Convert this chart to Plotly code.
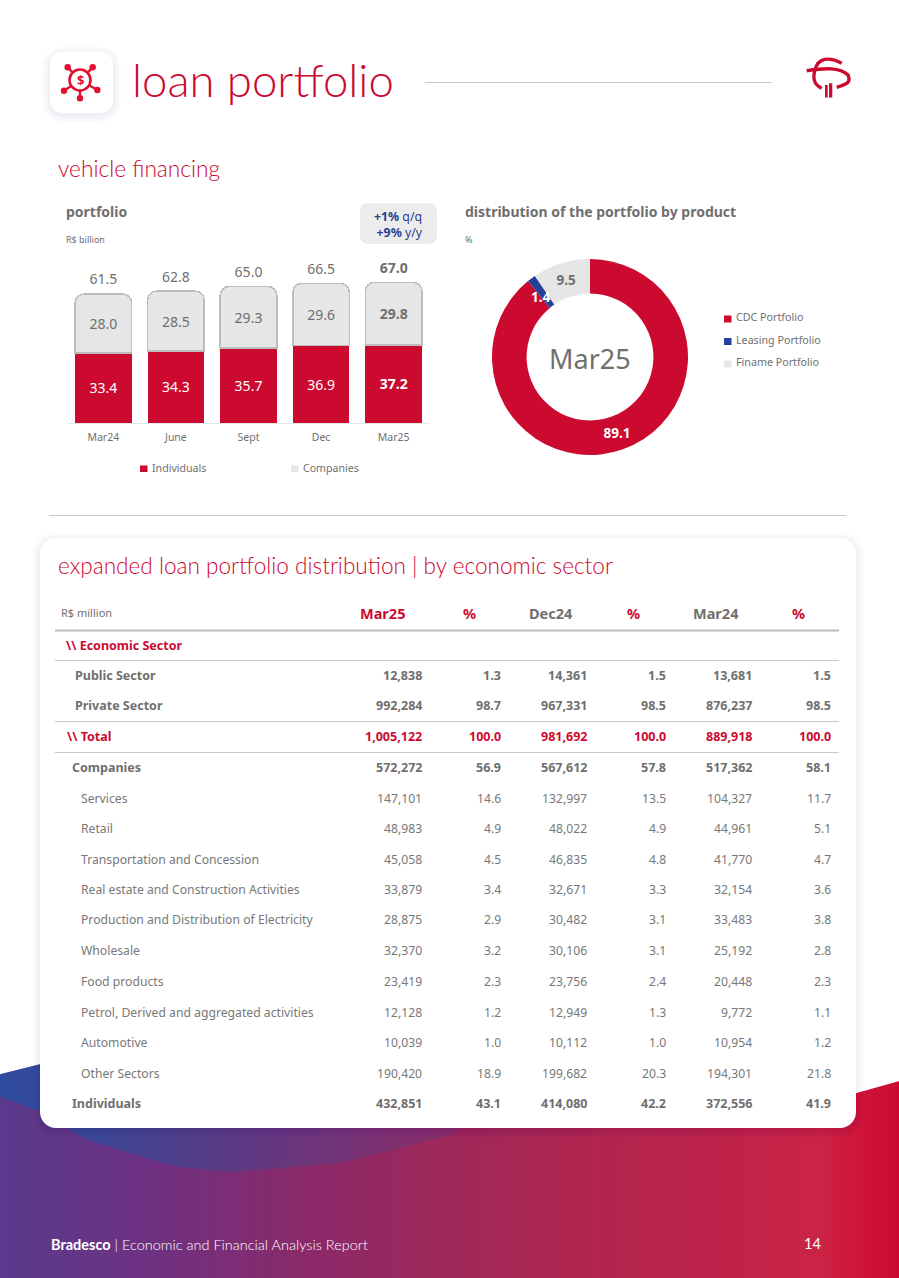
import base64, struct, zlib
import numpy as np
import plotly.graph_objects as go

W, H = 899, 1278
RED = "#cc092f"
GRAY = "#6f6f6f"
LGRAY = "#e6e6e6"
BLUE = "#23439b"

# ---- data ----
periods = ["Mar24", "June", "Sept", "Dec", "Mar25"]
individuals = [33.4, 34.3, 35.7, 36.9, 37.2]
companies = [28.0, 28.5, 29.3, 29.6, 29.8]
totals = [61.5, 62.8, 65.0, 66.5, 67.0]

products = ["CDC Portfolio", "Leasing Portfolio", "Finame Portfolio"]
product_share = [89.1, 1.4, 9.5]

table_columns = ["Mar25", "%", "Dec24", "%", "Mar24", "%"]
row_labels = ["Public Sector", "Private Sector", "\\\\ Total", "Companies", "Services", "Retail",
              "Transportation and Concession", "Real estate and Construction Activities",
              "Production and Distribution of Electricity", "Wholesale", "Food products",
              "Petrol, Derived and aggregated activities", "Automotive", "Other Sectors", "Individuals"]
col_mar25 = ["12,838", "992,284", "1,005,122", "572,272", "147,101", "48,983", "45,058", "33,879",
             "28,875", "32,370", "23,419", "12,128", "10,039", "190,420", "432,851"]
pct_mar25 = ["1.3", "98.7", "100.0", "56.9", "14.6", "4.9", "4.5", "3.4", "2.9", "3.2", "2.3", "1.2", "1.0", "18.9", "43.1"]
col_dec24 = ["14,361", "967,331", "981,692", "567,612", "132,997", "48,022", "46,835", "32,671",
             "30,482", "30,106", "23,756", "12,949", "10,112", "199,682", "414,080"]
pct_dec24 = ["1.5", "98.5", "100.0", "57.8", "13.5", "4.9", "4.8", "3.3", "3.1", "3.1", "2.4", "1.3", "1.0", "20.3", "42.2"]
col_mar24 = ["13,681", "876,237", "889,918", "517,362", "104,327", "44,961", "41,770", "32,154",
             "33,483", "25,192", "20,448", "9,772", "10,954", "194,301", "372,556"]
pct_mar24 = ["1.5", "98.5", "100.0", "58.1", "11.7", "5.1", "4.7", "3.6", "3.8", "2.8", "2.3", "1.1", "1.2", "21.8", "41.9"]

# ---- page helpers (pixel -> paper) ----
def px(x): return x / W
def py(y): return 1 - y / H

annotations, shapes = [], []
SANS = "Noto Sans"
THIN = "Lato"

def text(x, y, s, size=12.5, color=GRAY, anchor="left", weight=400, family=SANS):
    annotations.append(dict(x=px(x - 1), y=py(y - 1), xref="paper", yref="paper", text=s, showarrow=False,
                            xanchor=anchor, yanchor="middle", align=anchor, borderpad=0,
                            font=dict(size=size, color=color, family=family, weight=weight)))

def pth(d, **kw):
    shapes.append(dict(type="path", path=d, xref="paper", yref="paper", layer="below", **kw))

def P(x, y): return f"{px(x):.6f},{py(y):.6f}"

def rrect_path(x0, y0, x1, y1, r):
    k = r * 0.45
    return (f"M {P(x0+r,y0)} L {P(x1-r,y0)} C {P(x1-k,y0)} {P(x1,y0+k)} {P(x1,y0+r)} "
            f"L {P(x1,y1-r)} C {P(x1,y1-k)} {P(x1-k,y1)} {P(x1-r,y1)} "
            f"L {P(x0+r,y1)} C {P(x0+k,y1)} {P(x0,y1-k)} {P(x0,y1-r)} "
            f"L {P(x0,y0+r)} C {P(x0,y0+k)} {P(x0+k,y0)} {P(x0+r,y0)} Z")

def rrect(x0, y0, x1, y1, r, fill, shadow=0):
    for i in range(shadow, 0, -1):
        pth(rrect_path(x0 - i, y0 - i + 2, x1 + i, y1 + i + 2, r + i),
            fillcolor="rgba(60,60,70,0.008)", line=dict(width=0))
    pth(rrect_path(x0, y0, x1, y1, r), fillcolor=fill, line=dict(width=0))

def hline(x0, x1, y, color="#c8c8c8", width=1):
    shapes.append(dict(type="line", xref="paper", yref="paper", x0=px(x0), x1=px(x1), y0=py(y + 0.5), y1=py(y + 0.5),
                       line=dict(color=color, width=width), layer="below"))

def square(x0, x1, y0, y1, color):
    shapes.append(dict(type="rect", xref="paper", yref="paper", x0=px(x0), x1=px(x1), y0=py(y0), y1=py(y1),
                       fillcolor=color, line=dict(width=0), layer="below"))

# ---- bottom wave background, painted as a small RGBA image ----
def background_png():
    top, h = 1040, 238
    xs = np.arange(W)
    ys = np.arange(top, top + h)
    sx = [0, 150, 300, 450, 600, 750, 820, 860, 899]
    base = np.array([[90, 59, 141], [111, 50, 130], [138, 42, 107], [160, 40, 90], [179, 38, 79],
                     [194, 35, 74], [204, 36, 69], [208, 20, 58], [204, 10, 48]], float)
    col = np.stack([np.interp(xs, sx, base[:, i]) for i in range(3)], 1)
    bx = [0, 100, 230, 453, 899]
    blue = np.array([[47, 76, 160], [62, 71, 152], [93, 58, 133], [140, 45, 105], [140, 45, 105]], float)
    bcol = np.stack([np.interp(xs, bx, blue[:, i]) for i in range(3)], 1)
    edge = np.interp(xs, [0, 40, 86, 170, 229, 344, 453, 500], [1097, 1112, 1140, 1166, 1173, 1163, 1135, 1000])
    top_edge = np.interp(xs, [0, 40, 856, 899], [1073, 1063, 1092, 1080])
    Y, _ = np.meshgrid(ys, xs, indexing="ij")
    mask = np.clip((edge[None, :] - Y) / 2, 0, 1)[..., None]
    rgb = col[None, :, :] * (1 - mask) + bcol[None, :, :] * mask
    alpha = np.clip(Y - top_edge[None, :], 0, 1)[..., None] * 255
    arr = np.concatenate([rgb, alpha], 2).astype(np.uint8)
    raw = b"".join(b"\x00" + arr[i].tobytes() for i in range(h))
    def chunk(t, d):
        return struct.pack(">I", len(d)) + t + d + struct.pack(">I", zlib.crc32(t + d))
    png = b"\x89PNG\r\n\x1a\n" + chunk(b"IHDR", struct.pack(">IIBBBBB", W, h, 8, 6, 0, 0, 0)) + \
        chunk(b"IDAT", zlib.compress(raw, 9)) + chunk(b"IEND", b"")
    return "data:image/png;base64," + base64.b64encode(png).decode()

# ---- page furniture ----
rrect(40, 538, 856, 1128, 16, "#ffffff", shadow=8)
rrect(50, 52, 113, 113, 12, "#ffffff", shadow=8)
rrect(360, 203, 437, 244, 8, "#ececec")
hline(425, 772, 82)
hline(49, 846, 515)

# header icon
cx, cy = 80, 80
for dx, dy in [(67.7, 67.3), (92.7, 67.3), (64, 90.7), (97.3, 90), (80, 98.3)]:
    shapes.append(dict(type="line", xref="paper", yref="paper", x0=px(cx), y0=py(cy), x1=px(dx), y1=py(dy),
                       line=dict(color="#e0102f", width=2.4), layer="below"))
    shapes.append(dict(type="circle", xref="paper", yref="paper", x0=px(dx-3.2), x1=px(dx+3.2), y0=py(dy-3.2), y1=py(dy+3.2),
                       fillcolor="#e0102f", line=dict(width=0), layer="below"))
shapes.append(dict(type="circle", xref="paper", yref="paper", x0=px(cx-10.5), x1=px(cx+10.5), y0=py(cy-10.5), y1=py(cy+10.5),
                   fillcolor="#ffffff", line=dict(color="#e0102f", width=2.6), layer="below"))
text(cx + 1, cy + 1, "$", 13, "#e0102f", "center", 700)

# Bradesco logo
pth(f"M {P(841.7,63.3)} C {P(830,57)} {P(818,57)} {P(815,70)} C {P(812,80)} {P(815,85)} {P(821.7,88.3)}",
    line=dict(color=RED, width=3.4))
pth(f"M {P(806.7,70.7)} C {P(825,68)} {P(840,67)} {P(848,75)} C {P(851,82)} {P(848,84)} {P(836.7,87.3)}",
    line=dict(color=RED, width=3.4))
for x0, x1, y0 in [(825, 827.7, 85), (829, 832.3, 83.3)]:
    square(x0, x1, y0, 97.5, RED)

# titles
text(131.5, 80, "loan portfolio", 45.5, RED, weight=300, family=THIN)
text(58, 169.5, "vehicle financing", 22.7, RED, weight=300, family=THIN)
text(58, 566, "expanded loan portfolio distribution | by economic sector", 22.6, RED, weight=300, family=THIN)
text(66, 212, "portfolio", 14, GRAY, weight=700)
text(66, 240, "R$ billion", 9, GRAY)
text(465, 212, "distribution of the portfolio by product", 14, GRAY, weight=700)
text(465, 240, "%", 9, GRAY)
text(424.5, 226, "<b>+1%</b> q/q<br><b>+9%</b> y/y", 12.3, "#2b3f8f", "right")
text(591, 360, "Mar25", 27, GRAY, "center")

# chart legends
for x, name, color in [(140, "Individuals", RED), (291, "Companies", LGRAY)]:
    square(x, x + 7.5, 465.5, 472, color)
    text(x + 12, 468.5, name, 10.6, GRAY)
for i, (name, color) in enumerate(zip(products, [RED, BLUE, LGRAY])):
    y = 318 + i * 22.5
    square(724, 731.5, y - 2.5, y + 4.5, color)
    text(735.5, y, name, 10.7, GRAY)

# table
hline(55, 839, 630, "#bdbdbd", 2)
for y in (660, 721, 752):
    hline(55, 839, y)
text(61, 614, "R$ million", 11, GRAY)
head_x = [383.5, 470, 552, 634.5, 716.5, 799]
head_col = [RED, RED, GRAY, RED, GRAY, RED]
for x, s, c in zip(head_x, table_columns, head_col):
    text(x, 614, s, 14.5, c, "center", 700)
text(66, 646, "\\\\ Economic Sector", 12.5, RED, weight=700)

row_y = [676, 706, 737, 768, 799, 829, 860, 890, 921, 951, 982, 1013, 1043, 1074, 1104]
col_right = [423.5, 502, 588, 667, 753, 832]
columns = [col_mar25, pct_mar25, col_dec24, pct_dec24, col_mar24, pct_mar24]
for i, (y, label) in enumerate(zip(row_y, row_labels)):
    if label.startswith("\\"):
        lx, c, w, s = 66, RED, 700, 12.5
    elif i in (0, 1):
        lx, c, w, s = 74, GRAY, 700, 12.5
    elif i in (3, 14):
        lx, c, w, s = 71, GRAY, 700, 12.5
    else:
        lx, c, w, s = 80, "#787878", 400, 12.2
    text(lx + 0.5, y, label, s, c, weight=w)
    for x, col in zip(col_right, columns):
        text(x + 0.5, y, col[i], s, c, "right", w)

# footer
text(50.5, 1245, "<b>Bradesco</b> | Economic and Financial Analysis Report", 14.5, "#ffffff", weight=300, family=THIN)
text(813.5, 1244.5, "14", 14.5, "#ffffff", "center", 400, THIN)

# small donut label sits on the slice edge, as in the reference
text(542, 298, f"<b>{product_share[1]}</b>", 13.5, "#ffffff", "center")

# ---- traces ----
bold_last = lambda vals: [f"<b>{v:.1f}</b>" if i == len(vals) - 1 else f"{v:.1f}" for i, v in enumerate(vals)]
fig = go.Figure()
fig.add_bar(x=periods, y=individuals, name="Individuals", marker=dict(color=RED, line=dict(width=0)),
            text=bold_last(individuals), textposition="inside", insidetextanchor="middle",
            textangle=0, textfont=dict(color="#ffffff", size=14, family=SANS), hoverinfo="skip", showlegend=False)
fig.add_bar(x=periods, y=companies, name="Companies", marker=dict(color=LGRAY, line=dict(color="#bdbdbd", width=1.5)),
            text=bold_last(companies), textposition="inside", insidetextanchor="middle",
            textangle=0, textfont=dict(color=GRAY, size=14, family=SANS), hoverinfo="skip", showlegend=False)
fig.add_scatter(x=periods, y=totals, mode="markers+text", text=bold_last(totals), textposition="top center",
                marker=dict(size=8, opacity=0), cliponaxis=False,
                textfont=dict(color=GRAY, size=14, family=SANS), showlegend=False, hoverinfo="skip")
fig.add_pie(labels=products, values=product_share, hole=0.647, sort=False, direction="clockwise", rotation=0,
            marker=dict(colors=[RED, BLUE, LGRAY], line=dict(width=0)),
            text=[f"<b>{product_share[0]}</b>", "", f"<b>{product_share[2]}</b>"], textinfo="text", textposition="inside",
            insidetextorientation="horizontal",
            insidetextfont=dict(color=["#ffffff", "#ffffff", GRAY], size=13.5, family=SANS),
            domain=dict(x=[px(492), px(688)], y=[py(455), py(259)]), showlegend=False, hoverinfo="skip")

fig.update_layout(
    width=W, height=H, margin=dict(l=0, r=0, t=0, b=0, pad=0), showlegend=False,
    paper_bgcolor="#ffffff", plot_bgcolor="rgba(0,0,0,0)",
    barmode="stack", bargap=0.22, barcornerradius=9,
    xaxis=dict(domain=[px(67), px(430)], showgrid=False, zeroline=False, showline=True, linecolor="#e4e9ec",
               linewidth=1, ticks="", ticklabelstandoff=4, tickfont=dict(size=10.5, color=GRAY, family=SANS), fixedrange=True),
    yaxis=dict(domain=[py(423), py(263)], range=[0, 76.2], visible=False, fixedrange=True),
    annotations=annotations, shapes=shapes,
    images=[dict(source=background_png(), xref="paper", yref="paper", x=0, y=py(1040), sizex=1, sizey=238 / H,
                 xanchor="left", yanchor="top", sizing="stretch", layer="below")],
)
fig.write_html("out.html", config=dict(displayModeBar=False),
               post_script="document.body.style.margin='0';")
